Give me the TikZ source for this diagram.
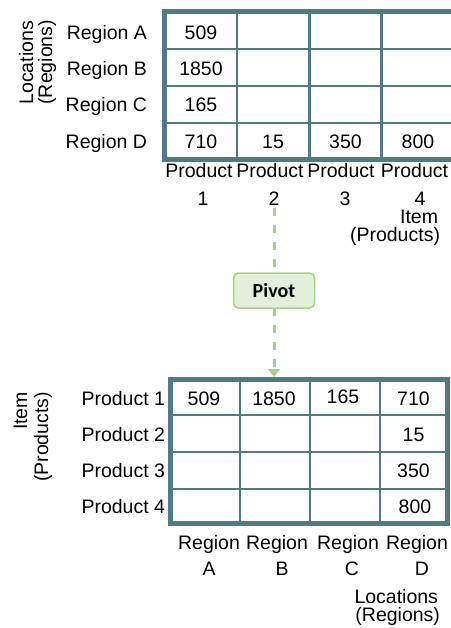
\documentclass[tikz,border=0pt]{standalone}
\usepackage{fontspec}
\setmainfont{Liberation Sans}
\newfontfamily\calibrifont{Carlito}
\usetikzlibrary{arrows.meta}
\definecolor{gridteal}{HTML}{4F7C80}
\definecolor{pivotfill}{HTML}{E2EFDA}
\definecolor{pivotline}{HTML}{A9D18E}
\tikzset{
  lbl/.style={anchor=base},
  rowlbl/.style={anchor=base east},
  sidelbl/.style={rotate=90, anchor=base east},
  innerrule/.style={draw=gridteal, line width=2.5pt},
  outerrule/.style={draw=gridteal, line width=5pt},
  pivotbox/.style={draw=pivotline, fill=pivotfill, rounded corners=5pt, line width=1.5pt,
    minimum width=81pt, minimum height=35pt, font=\calibrifont\bfseries\fontsize{20}{24}\selectfont},
  pivotconn/.style={draw=pivotline, line width=3pt, dash pattern=on 8pt off 9pt}
}
\begin{document}
\begin{tikzpicture}[x=1pt, y=-1pt,
  every node/.style={inner sep=0pt, outer sep=0pt, font=\fontsize{19.5}{23}\selectfont}]
\useasboundingbox (0,0) rectangle (450,628);

% ---- upper table: regions by products ----
\foreach \x in {237,309.5,381.5} \draw[innerrule] (\x,11.5) -- (\x,160);
\foreach \y in {49,86,123} \draw[innerrule] (164.5,\y) -- (458,\y);
\draw[outerrule] (164.5,11.5) rectangle (458,160);

\node[sidelbl] (locA) at (33,21) {Locations};
\node[sidelbl] (locB) at (52,20) {(Regions)};

\node[rowlbl] (ra) at (147,39.5) {Region A};
\node[rowlbl] (rb) at (147,75.5) {Region B};
\node[rowlbl] (rc) at (147,112) {Region C};
\node[rowlbl] (rd) at (147,148.5) {Region D};

\node[lbl] (ta1) at (201,39.5) {509};
\node[lbl] (tb1) at (201,75.5) {1850};
\node[lbl] (tc1) at (201,112) {165};
\node[lbl] (td1) at (201,148.5) {710};
\node[lbl] (td2) at (273,148.5) {15};
\node[lbl] (td3) at (345.5,148.5) {350};
\node[lbl] (td4) at (418,148.5) {800};

\node[lbl] (pa1) at (199,178) {Product};
\node[lbl] (pa2) at (203,205) {1};
\node[lbl] (pb1) at (270,178) {Product};
\node[lbl] (pb2) at (274,205) {2};
\node[lbl] (pc1) at (341,178) {Product};
\node[lbl] (pc2) at (345,205) {3};
\node[lbl] (pd1) at (414.5,178) {Product};
\node[lbl] (pd2) at (420,205) {4};
\node[rowlbl] (itA) at (438,223) {Item};
\node[rowlbl] (itB) at (440,241.5) {(Products)};

% ---- pivot step ----
\node[pivotbox] (pivot) at (274,290.5) {Pivot};
\coordinate (dashtop) at (274,208);
\coordinate (dashtip) at (274,377);
\draw[pivotconn] (dashtop) -- (pivot);
\draw[pivotconn, -{Triangle[length=8pt,width=12pt]}] (pivot) -- (dashtip);

% ---- lower table: products by regions ----
\foreach \x in {240,310,380} \draw[innerrule] (\x,379.5) -- (\x,523);
\foreach \y in {415,452,489} \draw[innerrule] (170,\y) -- (447,\y);
\draw[outerrule] (170,379.5) rectangle (447,523);

\node[sidelbl] (itC) at (27,392) {Item};
\node[sidelbl] (itD) at (48,392) {(Products)};

\node[rowlbl] (p1) at (165,405) {Product 1};
\node[rowlbl] (p2) at (165,441.5) {Product 2};
\node[rowlbl] (p3) at (165,477.5) {Product 3};
\node[rowlbl] (p4) at (165,513.5) {Product 4};

\node[lbl] (b11) at (204,405) {509};
\node[lbl] (b12) at (274,405) {1850};
\node[lbl] (b13) at (343,403) {165};
\node[lbl] (b14) at (413.5,405.5) {710};
\node[lbl] (b24) at (413.5,441.5) {15};
\node[lbl] (b34) at (413.5,477.5) {350};
\node[lbl] (b44) at (415,513.5) {800};

\node[lbl] (ga1) at (209,549) {Region};
\node[lbl] (ga2) at (209,575) {A};
\node[lbl] (gb1) at (277,549) {Region};
\node[lbl] (gb2) at (282,575) {B};
\node[lbl] (gc1) at (348,549) {Region};
\node[lbl] (gc2) at (352,575) {C};
\node[lbl] (gd1) at (417,549) {Region};
\node[lbl] (gd2) at (422,575) {D};
\node[rowlbl] (lcA) at (438,603) {Locations};
\node[rowlbl] (lcB) at (440,621) {(Regions)};
\end{tikzpicture}
\end{document}
